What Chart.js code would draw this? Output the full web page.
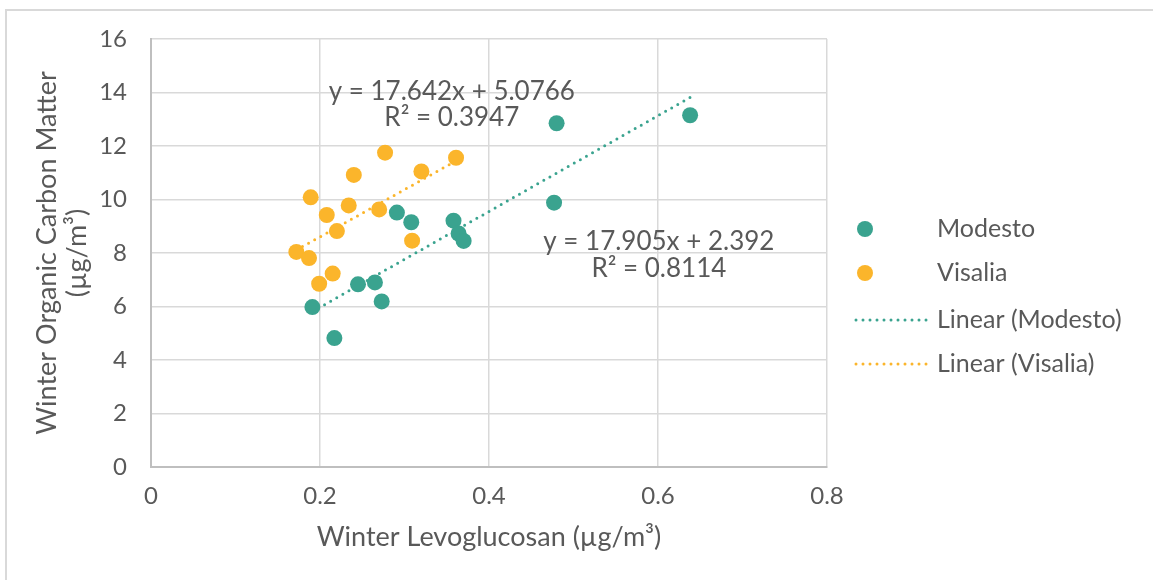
<!DOCTYPE html>
<html>
<head>
<meta charset="utf-8">
<script src="https://cdn.jsdelivr.net/npm/chart.js@4.4.1/dist/chart.umd.min.js"></script>
<style>
html,body{margin:0;padding:0;background:#fff;}
#wrap{width:1153px;height:580px;position:relative;overflow:hidden;}
</style>
</head>
<body>
<div id="wrap"><canvas id="c" width="1153" height="580"></canvas></div>
<script>
// ---- data ----
const seriesNames = ['Modesto', 'Visalia', 'Linear (Modesto)', 'Linear (Visalia)'];
const modestoX = [0.191, 0.217, 0.245, 0.265, 0.273, 0.291, 0.308, 0.358, 0.364, 0.370, 0.477, 0.480, 0.638];
const modestoY = [5.98, 4.82, 6.83, 6.90, 6.19, 9.51, 9.15, 9.21, 8.73, 8.45, 9.88, 12.85, 13.15];
const visaliaX = [0.172, 0.187, 0.189, 0.199, 0.208, 0.215, 0.220, 0.234, 0.240, 0.270, 0.277, 0.309, 0.320, 0.361];
const visaliaY = [8.04, 7.81, 10.08, 6.85, 9.42, 7.23, 8.82, 9.78, 10.92, 9.63, 11.75, 8.46, 11.05, 11.56];
const xTicks = [0, 0.2, 0.4, 0.6, 0.8];
const yTicks = [0, 2, 4, 6, 8, 10, 12, 14, 16];
const modestoSlope = 17.905, modestoIntercept = 2.392;
const visaliaSlope = 17.642, visaliaIntercept = 5.0766;
const modestoEq = ['y = 17.905x + 2.392', 'R\u00B2 = 0.8114'];
const visaliaEq = ['y = 17.642x + 5.0766', 'R\u00B2 = 0.3947'];
const xTitle = 'Winter Levoglucosan (\u00B5g/m\u00B3)';
const yTitle = ['Winter Organic Carbon Matter', '(\u00B5g/m\u00B3)'];

// ---- styles ----
const TEAL = '#3AA38F';
const ORANGE = '#FBB52B';
const TEXT = '#595959';
const FONT = 'Lato';

function pts(xs, ys) { return xs.map((x, i) => ({x: x, y: ys[i]})); }
function trend(xs, m, b) {
  const lo = Math.min(...xs), hi = Math.max(...xs);
  return [{x: lo, y: m * lo + b}, {x: hi, y: m * hi + b}];
}

const frame = {
  id: 'frame',
  beforeDraw(chart) {
    const ctx = chart.ctx;
    ctx.save();
    ctx.strokeStyle = '#d9d9d9';
    ctx.lineWidth = 2;
    ctx.strokeRect(6, 10, 1300, 700);
    ctx.restore();
  }
};

const annot = {
  id: 'annot',
  afterDatasetsDraw(chart) {
    const ctx = chart.ctx;
    const xs = chart.scales.x, ys = chart.scales.y;
    ctx.save();
    ctx.fillStyle = TEXT;
    ctx.font = '26px ' + FONT;
    ctx.textAlign = 'center';
    ctx.textBaseline = 'middle';
    // Visalia equation
    let cx = xs.getPixelForValue(0.356), cy = ys.getPixelForValue(14.02);
    ctx.fillText(visaliaEq[0], cx, cy);
    ctx.fillText(visaliaEq[1], cx, cy + 26);
    // Modesto equation
    cx = xs.getPixelForValue(0.601); cy = ys.getPixelForValue(8.41);
    ctx.fillText(modestoEq[0], cx, cy);
    ctx.fillText(modestoEq[1], cx, cy + 27);
    ctx.restore();
  }
};

const legendPlugin = {
  id: 'customLegend',
  afterDraw(chart) {
    const ctx = chart.ctx;
    const rows = [229, 273, 320, 364];
    ctx.save();
    ctx.font = '25px ' + FONT;
    ctx.textBaseline = 'middle';
    ctx.textAlign = 'left';
    chart.data.datasets.forEach((ds, i) => {
      const y = rows[i];
      if (ds.type === 'line') {
        ctx.strokeStyle = ds.borderColor;
        ctx.lineWidth = ds.borderWidth;
        ctx.lineCap = 'round';
        ctx.setLineDash(ds.borderDash);
        ctx.beginPath();
        ctx.moveTo(856, y);
        ctx.lineTo(928, y);
        ctx.stroke();
        ctx.setLineDash([]);
      } else {
        ctx.fillStyle = ds.backgroundColor;
        ctx.beginPath();
        ctx.arc(865, y, 8, 0, Math.PI * 2);
        ctx.fill();
      }
      ctx.fillStyle = TEXT;
      ctx.fillText(ds.label, 937, y);
    });
    ctx.restore();
  }
};

new Chart(document.getElementById('c'), {
  type: 'scatter',
  data: {
    datasets: [
      {label: seriesNames[0], data: pts(modestoX, modestoY), backgroundColor: TEAL, borderColor: TEAL, pointRadius: 8, pointBorderWidth: 0, pointHoverRadius: 8},
      {label: seriesNames[1], data: pts(visaliaX, visaliaY), backgroundColor: ORANGE, borderColor: ORANGE, pointRadius: 8, pointBorderWidth: 0, pointHoverRadius: 8},
      {type: 'line', label: seriesNames[2], data: trend(modestoX, modestoSlope, modestoIntercept), borderColor: TEAL, backgroundColor: TEAL, borderWidth: 3, borderDash: [0, 7], borderCapStyle: 'round', pointRadius: 0, fill: false},
      {type: 'line', label: seriesNames[3], data: trend(visaliaX, visaliaSlope, visaliaIntercept), borderColor: ORANGE, backgroundColor: ORANGE, borderWidth: 3, borderDash: [0, 7], borderCapStyle: 'round', pointRadius: 0, fill: false}
    ]
  },
  options: {
    responsive: false,
    devicePixelRatio: 1,
    animation: false,
    events: [],
    layout: {padding: {left: 0, top: 39, right: 326, bottom: 0}},
    plugins: {legend: {display: false}, tooltip: {enabled: false}},
    scales: {
      x: {
        type: 'linear', min: 0, max: 0.8,
        afterBuildTicks: s => { s.ticks = xTicks.map(v => ({value: v})); },
        afterFit: s => { s.height = 113; },
        grid: {color: '#d9d9d9', lineWidth: 1.5, drawTicks: false},
        border: {color: '#bfbfbf', width: 2},
        ticks: {color: TEXT, font: {family: FONT, size: 24}, padding: 15, callback: v => String(v)},
        title: {display: true, text: xTitle, color: TEXT, font: {family: FONT, size: 27, lineHeight: 1.11}, padding: {top: 0, bottom: 28}}
      },
      y: {
        type: 'linear', min: 0, max: 16,
        afterBuildTicks: s => { s.ticks = yTicks.map(v => ({value: v})); },
        afterFit: s => { s.width = 151; },
        grid: {color: '#d9d9d9', lineWidth: 1.5, drawTicks: false},
        border: {color: '#bfbfbf', width: 2},
        ticks: {color: TEXT, font: {family: FONT, size: 24}, padding: 24, callback: v => String(v)},
        title: {display: true, text: yTitle, color: TEXT, font: {family: FONT, size: 27, lineHeight: 1.11}, padding: {top: 32, bottom: 0}}
      }
    }
  },
  plugins: [frame, annot, legendPlugin]
});
</script>
</body>
</html>
